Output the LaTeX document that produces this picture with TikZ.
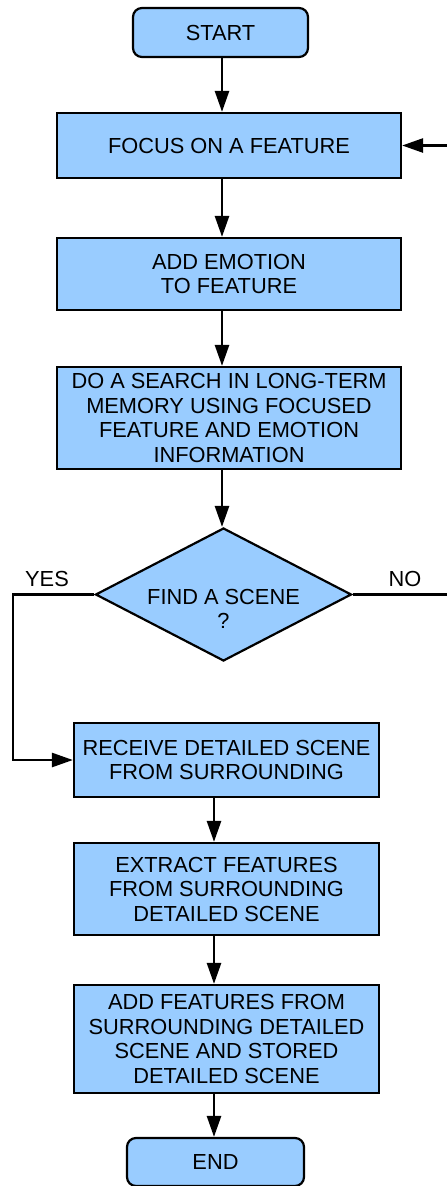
\documentclass[tikz,border=0pt]{standalone}
\usepackage{fontspec}
\setmainfont{Liberation Sans}
\usetikzlibrary{shapes.geometric,arrows.meta}
\definecolor{boxblue}{HTML}{99CCFF}
\tikzset{
  txt/.style={font=\fontsize{21.8}{24.5}\selectfont},
  box/.style={draw=black, line width=2.2pt, fill=boxblue, inner sep=0pt, align=center, txt},
  term/.style={box, rounded corners=9pt},
  decide/.style={box, diamond, aspect=1.93},
  arr/.style={line width=2.6pt, -{Triangle[length=21pt,width=14pt]}},
  plain/.style={line width=2.2pt},
  lbl/.style={txt, inner sep=0pt, align=center}
}
\begin{document}
\begin{tikzpicture}[x=1pt,y=-1pt]
\useasboundingbox (0,0) rectangle (447,1186);
% process steps
\node[term, minimum width=175pt, minimum height=49pt] (start) at (220.5,32.5) {START};
\node[box, minimum width=344pt, minimum height=65pt] (focus) at (229,145.5) {FOCUS ON A FEATURE};
\node[box, minimum width=344pt, minimum height=72pt] (emo) at (229,274) {ADD EMOTION\\TO FEATURE};
\node[box, minimum width=344pt, minimum height=102pt] (search) at (229,418) {DO A SEARCH IN LONG-TERM\\MEMORY USING FOCUSED\\FEATURE AND EMOTION\\INFORMATION};
\node[decide, minimum width=256pt, minimum height=133pt] (find) at (223.5,594.5) {};
\node[lbl] (findtext) at (223.5,609) {FIND A SCENE\\?};
\node[box, minimum width=305pt, minimum height=74pt] (recv) at (226.5,760) {RECEIVE DETAILED SCENE\\FROM SURROUNDING};
\node[box, minimum width=305pt, minimum height=92pt] (extract) at (226.5,889) {EXTRACT FEATURES\\FROM SURROUNDING\\DETAILED SCENE};
\node[box, minimum width=305pt, minimum height=108pt] (addf) at (226.5,1039) {ADD FEATURES FROM\\SURROUNDING DETAILED\\SCENE AND STORED\\DETAILED SCENE};
\node[term, minimum width=177pt, minimum height=48pt] (endn) at (215.5,1162) {END};
% branch labels
\node[lbl] (yes) at (47,579) {YES};
\node[lbl] (no) at (405,579) {NO};
% routing guides
\coordinate (mid) at (222,0);
\coordinate (low) at (214,0);
\coordinate (leftrail) at (13,0);
\coordinate (rightedge) at (447,0);
% connectors
\draw[arr] (start.south -| mid) -- (focus.north -| mid);
\draw[arr] (focus.south -| mid) -- (emo.north -| mid);
\draw[arr] (emo.south -| mid) -- (search.north -| mid);
\draw[arr] (search.south -| mid) -- (find.north -| mid);
\draw[arr] (find.west) -- (find.west -| leftrail) |- (recv.west);
\draw[plain] (find.east) -- (find.east -| rightedge);
\draw[arr] (focus.east -| rightedge) -- (focus.east);
\draw[arr] (recv.south -| low) -- (extract.north -| low);
\draw[arr] (extract.south -| low) -- (addf.north -| low);
\draw[arr] (addf.south -| low) -- (endn.north -| low);
\end{tikzpicture}
\end{document}
